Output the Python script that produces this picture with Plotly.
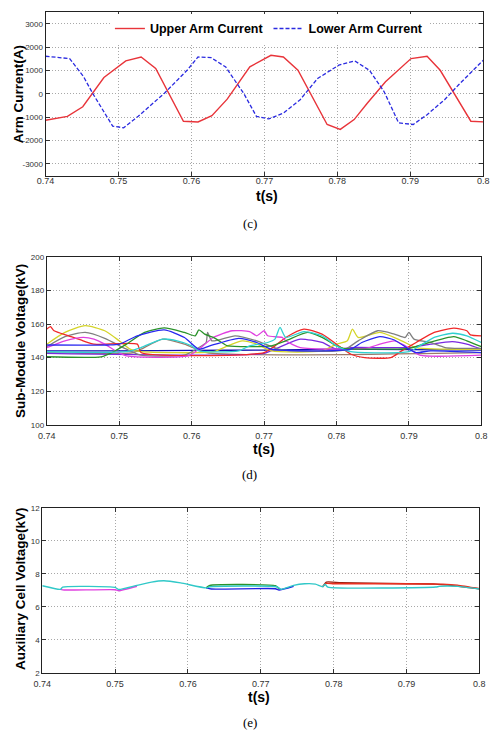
import plotly.graph_objects as go

# ---------------- Panel (c): arm currents ----------------
upper_t = [0.7400, 0.7430, 0.7451, 0.7464, 0.7480, 0.7510, 0.7531, 0.7551, 0.7589, 0.7609,
           0.7628, 0.7649, 0.7680, 0.7709, 0.7726, 0.7746, 0.7786, 0.7804, 0.7823, 0.7841,
           0.7866, 0.7901, 0.7923, 0.7941, 0.7983, 0.8000]
upper_i = [-1130, -960, -550, 0, 700, 1410, 1580, 1090, -1170, -1200,
           -930, -225, 1160, 1650, 1580, 1010, -1310, -1520, -1100, -400,
           520, 1510, 1610, 1010, -1170, -1200]

lower_t = [0.7400, 0.7433, 0.7452, 0.7465, 0.7492, 0.7507, 0.7527, 0.7563, 0.7594, 0.7609,
           0.7627, 0.7647, 0.7672, 0.7689, 0.7706, 0.7726, 0.7749, 0.7773, 0.7802, 0.7824,
           0.7844, 0.7864, 0.7884, 0.7904, 0.7923, 0.7947, 0.7966, 0.8000]
lower_i = [1610, 1510, 740, 0, -1380, -1450, -960, 30, 1010, 1580,
           1550, 1150, 0, -960, -1070, -820, -250, 660, 1230, 1410,
           1010, 100, -1240, -1310, -890, -250, 380, 1440]

# ---------------- Panel (d): sub-module voltages (kV) ----------------
sm_navy_t = [0.740, 0.750, 0.760, 0.770, 0.780, 0.790, 0.800]
sm_navy_v = [144.0, 144.0, 144.3, 144.5, 145.0, 144.8, 144.5]

sm_brown_t = [0.740, 0.752, 0.753, 0.756, 0.759, 0.762, 0.800]
sm_brown_v = [143.0, 143.0, 145.0, 151.0, 148.0, 143.0, 143.0]

sm_purple_t = [0.740, 0.770, 0.772, 0.775, 0.778, 0.780, 0.782, 0.790, 0.793, 0.796, 0.798, 0.800]
sm_purple_v = [142.5, 142.5, 146.0, 151.0, 149.0, 145.0, 146.0, 146.0, 148.0, 149.5, 148.0, 145.0]

sm_yellow_t = [0.740, 0.7425, 0.7453, 0.748, 0.750, 0.7515, 0.753, 0.763, 0.765, 0.767, 0.769, 0.771,
               0.778, 0.780, 0.7815, 0.7822, 0.7830, 0.786, 0.789, 0.791, 0.800]
sm_yellow_v = [148.0, 155.0, 159.0, 156.0, 150.0, 145.0, 143.5, 143.5, 147.0, 150.0, 148.0, 144.0,
               144.0, 148.0, 150.0, 157.0, 152.0, 155.0, 150.0, 146.0, 145.0]

sm_gray_t = [0.740, 0.7425, 0.7453, 0.748, 0.751, 0.753, 0.759, 0.761, 0.762, 0.7622, 0.7628,
             0.766, 0.769, 0.772, 0.774, 0.781, 0.783, 0.7857, 0.788, 0.7895, 0.790, 0.7907,
             0.793, 0.795, 0.800]
sm_gray_v = [146.5, 152.5, 155.0, 151.5, 145.0, 141.5, 141.5, 146.0, 149.0, 155.0, 150.0,
             153.0, 150.0, 145.0, 144.0, 144.5, 150.0, 156.0, 154.0, 152.0, 155.0, 151.0,
             149.0, 146.0, 145.5]

sm_red_t = [0.740, 0.7405, 0.741, 0.743, 0.745, 0.7465, 0.7525, 0.753, 0.770, 0.7715, 0.773,
            0.7755, 0.778, 0.780, 0.782, 0.7839, 0.7875, 0.789, 0.791, 0.7935, 0.7962, 0.798,
            0.7985, 0.800]
sm_red_v = [157.0, 158.5, 156.0, 153.0, 150.0, 148.0, 148.0, 143.0, 143.0, 147.0, 152.0,
            157.0, 154.0, 148.0, 142.0, 140.0, 140.0, 144.0, 149.0, 155.0, 157.5, 156.0,
            153.5, 153.0]

sm_magenta_t = [0.740, 0.7425, 0.745, 0.7465, 0.748, 0.7495, 0.751, 0.7595, 0.761, 0.763, 0.7656,
                0.768, 0.769, 0.770, 0.7705, 0.7725, 0.773, 0.775, 0.784, 0.786, 0.788, 0.7895,
                0.7915, 0.800]
sm_magenta_v = [146.0, 150.0, 152.0, 151.0, 148.0, 144.0, 141.0, 141.0, 145.0, 152.0, 156.0,
                155.5, 153.0, 156.0, 153.0, 152.0, 150.0, 146.0, 145.5, 148.0, 150.0, 147.0,
                141.5, 141.5]

sm_green_t = [0.740, 0.7475, 0.749, 0.751, 0.7535, 0.7562, 0.759, 0.7605, 0.761, 0.7618, 0.763,
              0.7645, 0.765, 0.771, 0.773, 0.776, 0.778, 0.780, 0.781, 0.790, 0.792, 0.7962,
              0.798, 0.800]
sm_green_v = [140.5, 140.5, 143.0, 148.0, 155.0, 157.7, 155.0, 153.0, 156.5, 154.0, 152.0,
              148.0, 147.0, 147.0, 150.0, 155.0, 152.0, 147.0, 145.5, 145.5, 148.0, 152.5,
              150.0, 146.5]

sm_cyan_t = [0.740, 0.751, 0.753, 0.756, 0.758, 0.760, 0.761, 0.7665, 0.768, 0.7705, 0.7715,
             0.7722, 0.773, 0.7755, 0.778, 0.780, 0.782, 0.790, 0.7915, 0.7935, 0.796, 0.798,
             0.800]
sm_cyan_v = [143.5, 143.5, 146.0, 151.0, 150.0, 147.0, 144.0, 144.0, 147.0, 149.0, 151.0,
             158.0, 152.0, 155.5, 153.0, 147.0, 143.5, 143.5, 147.0, 152.0, 154.5, 153.0,
             149.0]

sm_blue_t = [0.740, 0.7485, 0.750, 0.7525, 0.7562, 0.759, 0.761, 0.7625, 0.7665, 0.769, 0.771,
             0.782, 0.7835, 0.786, 0.788, 0.790, 0.791, 0.793, 0.800]
sm_blue_v = [147.5, 147.5, 148.0, 153.0, 156.5, 152.0, 145.0, 147.0, 151.5, 149.0, 145.0,
             145.0, 149.0, 152.5, 150.5, 145.0, 143.0, 144.0, 143.0]

# ---------------- Panel (e): auxiliary cell voltages (kV) ----------------
aux_magenta_t = [0.7425, 0.7430, 0.7500, 0.7505, 0.7530]
aux_magenta_v = [7.06, 7.02, 7.04, 6.98, 7.25]
aux_blue_t = [0.7625, 0.7632, 0.7720, 0.7725, 0.7745]
aux_blue_v = [7.15, 7.08, 7.10, 7.02, 7.25]
aux_green_t = [0.7625, 0.7630, 0.7720, 0.7725]
aux_green_v = [7.15, 7.30, 7.28, 7.10]
aux_darkred_t = [0.7785, 0.7790, 0.7810, 0.7900, 0.7940, 0.7960, 0.8000]
aux_darkred_v = [7.22, 7.50, 7.46, 7.40, 7.38, 7.30, 7.10]
aux_red_t = [0.7785, 0.7790, 0.7800, 0.7880, 0.7950, 0.7970, 0.8000]
aux_red_v = [7.22, 7.42, 7.40, 7.40, 7.38, 7.32, 7.10]
aux_cyan_t = [0.740, 0.7425, 0.7428, 0.7500, 0.7505, 0.7530, 0.7550, 0.7567, 0.7590, 0.7625,
              0.7630, 0.7722, 0.7728, 0.7745, 0.7760, 0.7775, 0.7785, 0.7788, 0.7792, 0.7940,
              0.7945, 0.7970, 0.8000]
aux_cyan_v = [7.28, 7.06, 7.20, 7.18, 7.05, 7.30, 7.50, 7.58, 7.45, 7.15,
              7.22, 7.22, 7.06, 7.30, 7.40, 7.38, 7.22, 7.38, 7.20, 7.20,
              7.24, 7.24, 7.08]

# ---------------- Tick labels ----------------
x_ticks = [0.74, 0.75, 0.76, 0.77, 0.78, 0.79, 0.80]
x_ticktext = ["0.74", "0.75", "0.76", "0.77", "0.78", "0.79", "0.8"]
c_yticks = [-3000, -2000, -1000, 0, 1000, 2000, 3000]
c_yticktext = ["-3000", "-2000", "-1000", "0", "1000", "2000", "3000"]
d_yticks = [100, 120, 140, 160, 180, 200]
e_yticks = [2, 4, 6, 8, 10, 12]

W, H = 497, 733
FONT = "Liberation Sans, Arial, sans-serif"
GRID_DASH = "1px,2px"

fig = go.Figure()

def px_x(x0, x1):
    return [x0 / W, x1 / W]

def px_y(top, bottom):
    return [1 - bottom / H, 1 - top / H]

# panel c traces
fig.add_trace(go.Scatter(x=upper_t, y=upper_i, mode="lines", name="Upper Arm Current",
                         line=dict(color="#e8343a", width=1.4), xaxis="x", yaxis="y"))
fig.add_trace(go.Scatter(x=lower_t, y=lower_i, mode="lines", name="Lower Arm Current",
                         line=dict(color="#2a2ae0", width=1.3, dash="4px,2px"), xaxis="x", yaxis="y"))

# panel d traces
sm_series = [
    (sm_navy_t, sm_navy_v, "#1010b0"),
    (sm_brown_t, sm_brown_v, "#9a7a6a"),
    (sm_purple_t, sm_purple_v, "#7a28e0"),
    (sm_yellow_t, sm_yellow_v, "#d4d428"),
    (sm_gray_t, sm_gray_v, "#7f7f7f"),
    (sm_red_t, sm_red_v, "#f02828"),
    (sm_magenta_t, sm_magenta_v, "#e040e0"),
    (sm_green_t, sm_green_v, "#2a922a"),
    (sm_cyan_t, sm_cyan_v, "#30d0d0"),
    (sm_blue_t, sm_blue_v, "#2828f0"),
]
for t, v, c in sm_series:
    fig.add_trace(go.Scatter(x=t, y=v, mode="lines", showlegend=False,
                             line=dict(color=c, width=1.3, shape="spline", smoothing=0.6),
                             xaxis="x2", yaxis="y2"))

# panel e traces
aux_series = [
    (aux_magenta_t, aux_magenta_v, "#e040e0"),
    (aux_blue_t, aux_blue_v, "#2020e0"),
    (aux_green_t, aux_green_v, "#2a922a"),
    (aux_darkred_t, aux_darkred_v, "#a02010"),
    (aux_red_t, aux_red_v, "#e83020"),
    (aux_cyan_t, aux_cyan_v, "#30c8c8"),
]
for t, v, c in aux_series:
    fig.add_trace(go.Scatter(x=t, y=v, mode="lines", showlegend=False,
                             line=dict(color=c, width=1.4, shape="spline", smoothing=0.5),
                             xaxis="x3", yaxis="y3"))

def xax(domain, anchor, standoff=-3):
    return dict(domain=domain, anchor=anchor, range=[0.74, 0.80],
                tickvals=x_ticks, ticktext=x_ticktext,
                tickfont=dict(family=FONT, size=9, color="#333333"),
                ticks="inside", ticklen=4, tickcolor="#333333",
                showline=True, linecolor="#222222", linewidth=1, mirror="ticks",
                showgrid=True, gridcolor="#a8a8a8", griddash=GRID_DASH, gridwidth=1,
                zeroline=False, ticklabelstandoff=standoff)

def yax(domain, anchor, rng, vals, text=None):
    d = dict(domain=domain, anchor=anchor, range=rng, tickvals=vals,
             tickfont=dict(family=FONT, size=8, color="#333333"),
             ticks="inside", ticklen=4, tickcolor="#333333",
             showline=True, linecolor="#222222", linewidth=1, mirror="ticks",
             showgrid=True, gridcolor="#a8a8a8", griddash=GRID_DASH, gridwidth=1,
             zeroline=False, ticklabelstandoff=0)
    if text is not None:
        d["ticktext"] = text
    return d

fig.update_layout(
    width=W, height=H,
    margin=dict(l=0, r=0, t=0, b=0),
    paper_bgcolor="white", plot_bgcolor="white",
    font=dict(family=FONT, color="black"),
    xaxis=xax(px_x(37.7, 489), "y"),
    yaxis=yax(px_y(8.2, 173.8), "x", [-3500, 3500], c_yticks, c_yticktext),
    xaxis2=xax(px_x(39, 487), "y2", 2),
    yaxis2=yax(px_y(256, 426), "x2", [100, 200], d_yticks),
    xaxis3=xax(px_x(34.3, 485), "y3", 2),
    yaxis3=yax(px_y(510, 677.3), "x3", [2, 12], e_yticks),
    legend=dict(orientation="h", x=268 / W, y=1 - 10 / H, xanchor="center", yanchor="top",
                bgcolor="white", borderwidth=0,
                font=dict(family=FONT, size=12.5, color="black", weight="bold"),
                itemwidth=30, tracegroupgap=0),
)

def ann(text, x, y, size, angle=0, bold=True, family=FONT):
    fig.add_annotation(text=text, x=x / W, y=1 - y / H, xref="paper", yref="paper",
                       showarrow=False, textangle=angle, xanchor="center", yanchor="middle",
                       font=dict(family=family, size=size, color="black",
                                 weight="bold" if bold else "normal"))

ann("Arm Current(A)", 10.7, 91, 13.5, angle=-90)
ann("Sub-Module Voltage(kV)", 12.5, 341, 13.5, angle=-90)
ann("Auxiliary Cell Voltage(kV)", 11.7, 592, 13.5, angle=-90)
ann("t(s)", 266, 194, 14)
ann("t(s)", 263, 451, 14)
ann("t(s)", 258, 702, 14)
ann("(c)", 248, 222, 13, bold=False, family="Liberation Serif, Times New Roman, serif")
ann("(d)", 248, 476, 13, bold=False, family="Liberation Serif, Times New Roman, serif")
ann("(e)", 248, 727, 13, bold=False, family="Liberation Serif, Times New Roman, serif")

fig.write_html("out.html")
